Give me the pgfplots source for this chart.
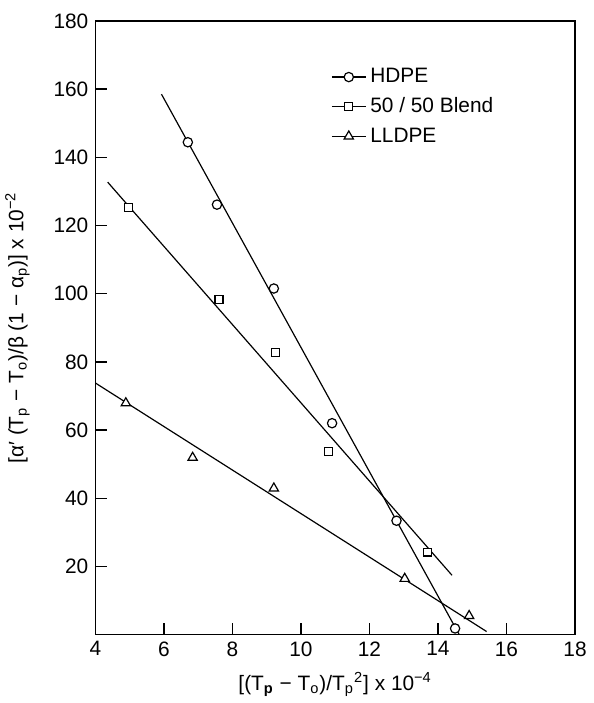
\documentclass[border=0pt]{standalone}
\usepackage{pgfplots}
\pgfplotsset{compat=1.18}
\usepackage{fontspec}
\setmainfont{Liberation Sans}

% Measured points
\pgfplotstableread{
x y
6.70 144.4
7.55 126.1
9.21 101.5
10.91 62.0
12.79 33.4
14.50 1.8
}\hdpe
\pgfplotstableread{
x y
4.97 125.2
7.61 98.3
9.26 82.7
10.80 53.8
13.70 24.2
}\blend
\pgfplotstableread{
x y
4.89 67.9
6.84 51.9
9.21 42.9
13.03 16.4
14.91 5.5
}\lldpe

\begin{document}
\begin{tikzpicture}
\begin{axis}[
  scale only axis,
  width=241.5pt, height=309pt,
  xmin=4, xmax=18, ymin=0, ymax=180,
  xtick={4,6,...,18},
  ytick={20,40,...,180},
  tick align=inside,
  xtick pos=bottom, ytick pos=left,
  major tick length=6pt,
  axis line style={line width=0.7pt},
  every tick/.style={black, line width=0.7pt},
  /pgf/number format/assume math mode=true,
  tick label style={font=\fontsize{10.5}{12}\selectfont},
  label style={font=\fontsize{10.5}{12}\selectfont},
  xlabel={[(T\textsubscript{\textbf{p}} − T\textsubscript{o})/T\textsubscript{p}\textsuperscript{2}] x 10\textsuperscript{−4}},
  ylabel={[α′ (T\textsubscript{p} − T\textsubscript{o})/β (1 − α\textsubscript{p})]  x 10\textsuperscript{−2}},
  xlabel style={yshift=-1pt},
  ylabel style={inner sep=0pt, yshift=8.5pt},
  legend style={
    at={(axis cs:10.7,168.5)}, anchor=north west,
    draw=none, fill=none,
    font=\fontsize{10.5}{12}\selectfont,
    row sep=2pt,
  },
  legend cell align=left,
]
% fitted lines
\addplot[black, line width=0.6pt, forget plot] coordinates {(5.93,158.5) (14.62,0)};
\addplot[black, line width=0.6pt, forget plot] coordinates {(4.36,132.7) (14.41,17.4)};
\addplot[black, line width=0.6pt, forget plot] coordinates {(4.0,73.8) (15.42,0.9)};
% data points
\addplot[only marks, mark=*, mark size=2.35pt, mark options={draw=black, fill=white, line width=0.6pt}, forget plot] table {\hdpe};
\addplot[only marks, mark=square*, mark size=2.0pt, mark options={draw=black, fill=white, line width=0.6pt}, forget plot] table {\blend};
\addplot[only marks, mark=triangle*, mark size=2.7pt, mark options={draw=black, fill=white, line width=0.6pt}, forget plot] table {\lldpe};
% legend
\addlegendimage{black, line width=0.6pt, mark=*, mark size=2.35pt, mark options={fill=white}}
\addlegendentry{HDPE}
\addlegendimage{black, line width=0.6pt, mark=square*, mark size=2.0pt, mark options={fill=white}}
\addlegendentry{50 / 50 Blend}
\addlegendimage{black, line width=0.6pt, mark=triangle*, mark size=2.7pt, mark options={fill=white}}
\addlegendentry{LLDPE}
\end{axis}
\path (current axis.south west) ++(-48pt,-32pt) rectangle ([shift={(7pt,10.5pt)}]current axis.north east);
\end{tikzpicture}
\end{document}
